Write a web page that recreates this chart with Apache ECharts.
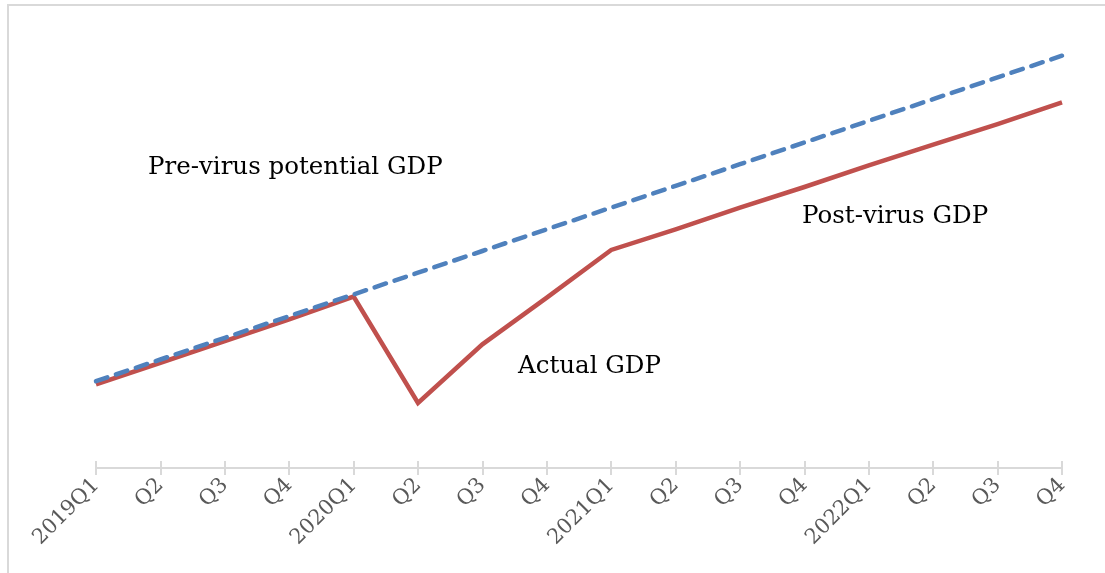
<!DOCTYPE html>
<html>
<head>
<meta charset="utf-8">
<script src="https://cdn.jsdelivr.net/npm/echarts@6/dist/echarts.min.js"></script>
<style>
html, body { margin: 0; padding: 0; background: #fff; }
#chart { width: 1105px; height: 573px; }
</style>
</head>
<body>
<div id="chart"></div>
<script>
var quarters = ['2019Q1', 'Q2', 'Q3', 'Q4', '2020Q1', 'Q2', 'Q3', 'Q4',
    '2021Q1', 'Q2', 'Q3', 'Q4', '2022Q1', 'Q2', 'Q3', 'Q4'];
var potential = [100, 102, 104, 106, 108, 110, 112, 114, 116, 118, 120, 122, 124, 126, 128, 130];
var actual = [99.7, 101.7, 103.7, 105.7, 107.8, 98.0, 103.4, 107.7,
    112.1, 114.0, 116.0, 117.9, 119.9, 121.8, 123.7, 125.7];

var serif = '"DejaVu Serif", "Liberation Serif", serif';
var tickStyle = { color: '#d9d9d9', width: 2 };
var chart = echarts.init(document.getElementById('chart'));
chart.setOption({
    animation: false,
    grid: { left: 96, right: 43, top: 34, bottom: 105 },
    graphic: [
        { type: 'rect', shape: { x: 8, y: 5, width: 1200, height: 700 },
          style: { fill: 'none', stroke: '#d9d9d9', lineWidth: 2 }, silent: true },
        { type: 'text', left: 148, top: 155,
          style: { text: 'Pre-virus potential GDP', font: '24.5px ' + serif, fill: '#000' } },
        { type: 'text', left: 802, top: 204,
          style: { text: 'Post-virus GDP', font: '24.5px ' + serif, fill: '#000' } },
        { type: 'text', left: 518, top: 354,
          style: { text: 'Actual GDP', font: '24.5px ' + serif, fill: '#000' } }
    ],
    xAxis: [
        {
            type: 'category',
            boundaryGap: false,
            data: quarters,
            axisLine: { lineStyle: tickStyle },
            axisTick: { alignWithLabel: true, length: 7, lineStyle: tickStyle },
            axisLabel: {
                interval: 0, rotate: 45, margin: 14,
                color: '#595959', fontFamily: serif, fontSize: 21
            },
            splitLine: { show: false }
        },
        {
            // second copy only to draw the upper half of the crossing ticks
            type: 'category',
            position: 'bottom',
            boundaryGap: false,
            data: quarters,
            axisLine: { show: false },
            axisTick: { inside: true, length: 7, lineStyle: tickStyle },
            axisLabel: { show: false },
            splitLine: { show: false }
        }
    ],
    yAxis: {
        type: 'value', min: 92, max: 132,
        show: false, splitLine: { show: false }
    },
    series: [
        {
            name: 'Pre-virus potential GDP',
            type: 'line',
            data: potential,
            showSymbol: false,
            lineStyle: { color: '#4f81bd', width: 4.5, type: [12, 9], cap: 'round' },
            z: 3
        },
        {
            name: 'Actual GDP',
            type: 'line',
            data: actual,
            showSymbol: false,
            lineStyle: { color: '#c0504d', width: 4.5, join: 'miter' },
            z: 2
        }
    ]
});
</script>
</body>
</html>
